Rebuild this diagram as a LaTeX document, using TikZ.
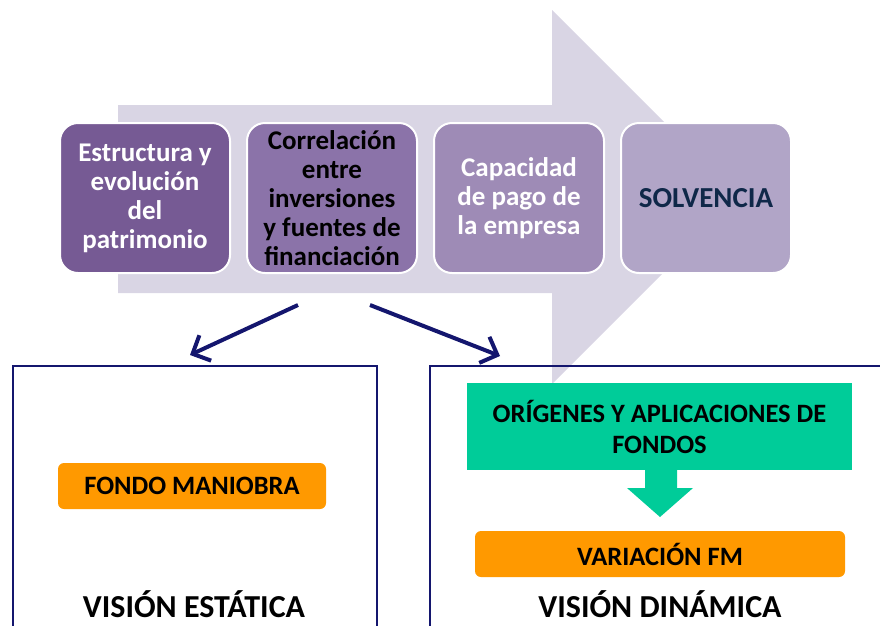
\documentclass[tikz,border=0pt]{standalone}
\usepackage{fontspec}
\setmainfont{Carlito}
\usepackage{tikz}
\usetikzlibrary{positioning,arrows.meta}

\definecolor{bandgrey}{HTML}{D9D5E4}
\definecolor{stageA}{HTML}{765A94}
\definecolor{stageB}{HTML}{8B73A9}
\definecolor{stageC}{HTML}{9E8BB6}
\definecolor{stageD}{HTML}{B1A5C7}
\definecolor{solvnavy}{HTML}{0F2849}
\definecolor{linknavy}{HTML}{14166E}
\definecolor{fundgreen}{HTML}{00CC99}
\definecolor{fmorange}{HTML}{FF9900}

\tikzset{
  stagebox/.style={rectangle, rounded corners=18pt, draw=white, line width=2pt,
    minimum width=170pt, minimum height=150pt, align=center, font=\bfseries\fontsize{27}{29}\selectfont},
  panel/.style={rectangle, draw=linknavy, line width=1.5pt, anchor=north west},
  fmbox/.style={rectangle, rounded corners=6pt, fill=fmorange, align=center,
    font=\bfseries\fontsize{26.5}{30}\selectfont},
  vision/.style={font=\bfseries\fontsize{32}{36}\selectfont, inner sep=1pt},
  link/.style={-{Straight Barb[length=14pt,width=28pt,line width=4pt]}, line width=4pt, draw=linknavy}
}

\begin{document}
\begin{tikzpicture}[x=1pt, y=-1pt]
\useasboundingbox (0,0) rectangle (880,625);

% Big background arrow
\fill[bandgrey] (118,105) -- (552,105) -- (552,10) -- (739,197) -- (552,384)
  -- (552,293) -- (118,293) -- cycle;

% Stages
\node[stagebox, fill=stageA, text=white] (patrim) at (145,198) {Estructura y\\evolución\\del\\patrimonio};
\node[stagebox, fill=stageB, text=black, right=15pt of patrim] (correl) {Correlación\\entre\\inversiones\\y fuentes de\\financiación};
\node[stagebox, fill=stageC, text=white, right=15pt of correl] (pago) {Capacidad\\de pago de\\la empresa};
\node[stagebox, fill=stageD, text=solvnavy, right=15pt of pago,
  font=\bfseries\fontsize{29}{32}\selectfont] (solv) {SOLVENCIA};

% Panels
\node[panel, minimum width=364pt, minimum height=280pt] (estatica) at (12,365) {};
\node[panel, minimum width=470pt, minimum height=280pt] (dinamica) at (429,365) {};

% Links from the stages
\coordinate (fromL) at (298,305);
\coordinate (fromR) at (370,305);
\coordinate (toL) at (190,355);
\coordinate (toR) at (500,356);
\draw[link] (fromL) -- (toL);
\draw[link] (fromR) -- (toR);

% Static view
\node[fmbox, minimum width=268pt, minimum height=46pt] (fm) at (192,486) {FONDO MANIOBRA};
\node[vision] (vest) at (194,604) {VISIÓN ESTÁTICA};

% Dynamic view
\node[rectangle, fill=fundgreen, minimum width=385pt, minimum height=87pt, align=center,
  font=\bfseries\fontsize{26.5}{31}\selectfont] (origen) at (659.5,426.5) {ORÍGENES Y APLICACIONES DE\\FONDOS};
\fill[fundgreen] (645,469) -- (677,469) -- (677,488) -- (693,488) -- (660,517)
  -- (627,488) -- (645,488) -- cycle;
\node[fmbox, minimum width=370pt, minimum height=46pt] (varfm) at (660,554) {VARIACIÓN FM};
\node[vision] (vdin) at (660,604) {VISIÓN DINÁMICA};
\end{tikzpicture}
\end{document}
